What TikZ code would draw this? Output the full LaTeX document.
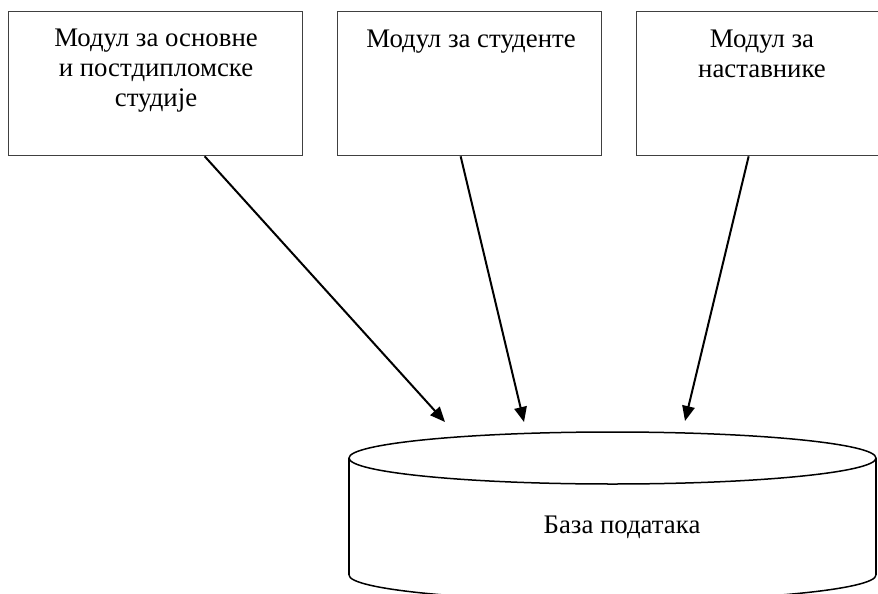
\documentclass[tikz,border=0pt]{standalone}
\usepackage{fontspec}
\setmainfont{Liberation Serif}
\usetikzlibrary{arrows.meta}
\begin{document}
\begin{tikzpicture}[x=1pt,y=-1pt,
  modbox/.style={draw=black!75,line width=1.3pt,minimum width=294pt,minimum height=144pt,inner sep=0pt,anchor=north west},
  boxtext/.style={align=center,inner sep=0pt,anchor=north,font=\fontsize{26.8}{30}\selectfont},
  flow/.style={line width=2pt,-{Triangle[length=15pt,width=12.5pt]}},
  dbline/.style={line width=1.5pt,black}]
\clip (0,0) rectangle (878,594);
\useasboundingbox (0,0) rectangle (878,594);
% module boxes
\node[modbox,minimum width=294pt] (b1) at (8,11) {};
\node[modbox,minimum width=264pt] (b2) at (337,11) {};
\node[modbox,minimum width=252pt] (b3) at (636,11) {};
\node[boxtext] (t1) at (156,28.7) {Модул за основне\\и постдипломске\\студије};
\node[boxtext] (t2) at (471,29.3) {Модул за студенте};
\node[boxtext] (t3) at (762,29.3) {Модул за\\наставнике};
% database cylinder
\draw[dbline] (349,575) -- (349,458) (876,458) -- (876,575);
\draw[dbline] (349,575) arc[start angle=180,end angle=360,x radius=263.5,y radius=-26];
\draw[dbline,fill=white] (612.5,458) ellipse[x radius=263.5,y radius=26];
\node[font=\fontsize{26.8}{30}\selectfont,inner sep=0pt] (db) at (622,527) {База података};
\coordinate (e1) at (445,422);
\coordinate (e2) at (524,422);
\coordinate (e3) at (685,421);
% connectors
\draw[flow] ([xshift=49pt]b1.south) -- (e1);
\draw[flow] ([xshift=-9pt]b2.south) -- (e2);
\draw[flow] ([xshift=-14pt]b3.south) -- (e3);
\end{tikzpicture}
\end{document}
